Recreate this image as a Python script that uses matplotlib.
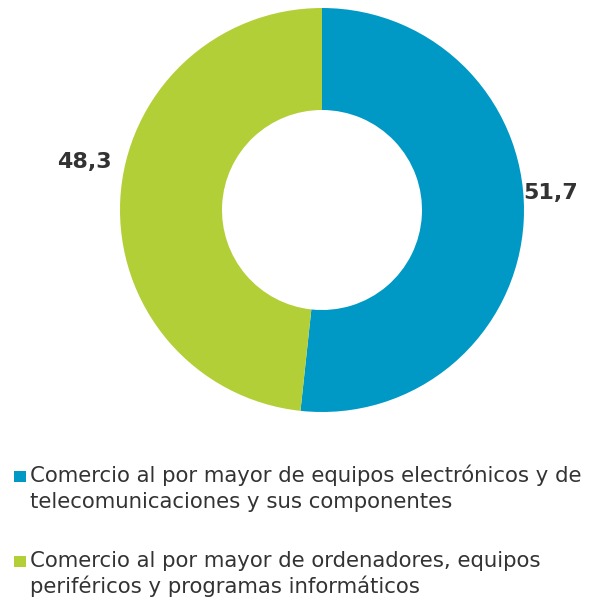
import matplotlib.pyplot as plt
from matplotlib.patches import Rectangle

plt.rcParams["font.family"] = ["DejaVu Sans"]

# share of each activity (%)
categorias = [
    "Comercio al por mayor de equipos electrónicos y de\ntelecomunicaciones y sus componentes",
    "Comercio al por mayor de ordenadores, equipos\nperiféricos y programas informáticos",
]
valores = [51.7, 48.3]
etiquetas = ["51,7", "48,3"]
colores = ["#0099c5", "#b3cf37"]

W, H = 592, 597
fig = plt.figure(figsize=(W / 100, H / 100), dpi=100)
ax = fig.add_axes([0, 0, 1, 1])

cx, cy = 322, H - 210
r_out, r_in = 202, 100
wedges, _ = ax.pie(valores, colors=colores, startangle=90, counterclock=False,
                   radius=r_out, center=(cx, cy), frame=True,
                   wedgeprops=dict(width=r_out - r_in, linewidth=0))
ax.set_xlim(0, W)
ax.set_ylim(0, H)
ax.set_aspect("equal")
ax.axis("off")

# value labels
ax.text(551, H - 193, etiquetas[0], ha="center", va="center",
        fontsize=16, fontweight="bold", color="#333333")
ax.text(84, H - 162, etiquetas[1], ha="center", va="center",
        fontsize=16, fontweight="bold", color="#333333")

# legend drawn by hand, one text per line on its baseline
for i, (txt, col) in enumerate(zip(categorias, colores)):
    base = H - 482 - i * 85
    ax.add_patch(Rectangle((14, base), 11.5, 11.5, color=col, lw=0))
    for j, linea in enumerate(txt.split("\n")):
        ax.text(30, base - j * 26, linea, ha="left", va="baseline",
                fontsize=15.3, color="#333333")

fig.savefig("out.png", dpi=100)
